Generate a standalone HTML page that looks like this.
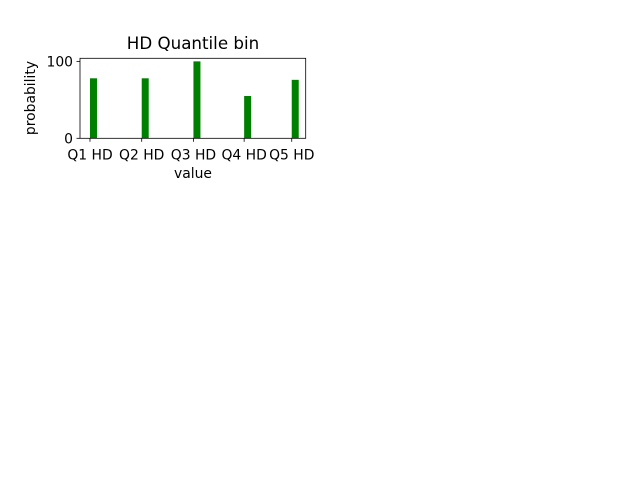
<!DOCTYPE html>
<html><head><meta charset="utf-8"><style>
body{margin:0;background:#fff;}
svg{display:block;font-family:"DejaVu Sans","Liberation Sans",sans-serif;}
</style></head><body>
<svg id="chart" width="640" height="480">
<text x="193" y="49" font-size="16.7" text-anchor="middle">HD Quantile bin</text>
<text x="193" y="178" font-size="13.9" text-anchor="middle">value</text>
<text transform="translate(35,98) rotate(-90)" font-size="13.9" text-anchor="middle">probability</text>
<g id="bars"></g><g id="axes"></g>
</svg>
<script>
const categories=["Q1 HD","Q2 HD","Q3 HD","Q4 HD","Q5 HD"];
const positions=[0,1,2,2.98,3.9];
const values=[78,78,100,55,76];
const yTicks=[0,100];
const L=80,R=305.7,T=58.3,B=138.3;
const xMin=-0.193,xMax=4.17,yMin=0,yMax=104;
const xs=v=>L+(v-xMin)/(xMax-xMin)*(R-L);
const ys=v=>B-(v-yMin)/(yMax-yMin)*(B-T);
const NS="http://www.w3.org/2000/svg";
const bars=document.getElementById('bars'),axes=document.getElementById('axes');
function mk(tag,attrs,parent){const e=document.createElementNS(NS,tag);for(const k in attrs)e.setAttribute(k,attrs[k]);parent.appendChild(e);return e;}
values.forEach((v,i)=>{
 const r=mk('rect',{x:xs(positions[i]),y:ys(v),width:7,height:ys(0)-ys(v),fill:'#008000'},bars);
 
 
 const t=mk('line',{x1:xs(positions[i]),x2:xs(positions[i]),y1:B,y2:B+3.5,stroke:'#000','stroke-width':0.8},axes);
 
 
 const lb=mk('text',{x:xs(positions[i]),y:B+21,'font-size':13.9,'text-anchor':'middle'},axes);
 lb.textContent=categories[i];
 
 
});
yTicks.forEach(v=>{
 const t=mk('line',{x1:L-3.5,x2:L,y1:ys(v),y2:ys(v),stroke:'#000','stroke-width':0.8},axes);
 
 
 const lb=mk('text',{x:L-7,y:ys(v)+5,'font-size':13.9,'text-anchor':'end'},axes);
 lb.textContent=v;
 
 
});
const f=mk('rect',{x:L,y:T,width:R-L,height:B-T,fill:'none',stroke:'#000','stroke-width':0.8},axes);


</script>
</body></html>
